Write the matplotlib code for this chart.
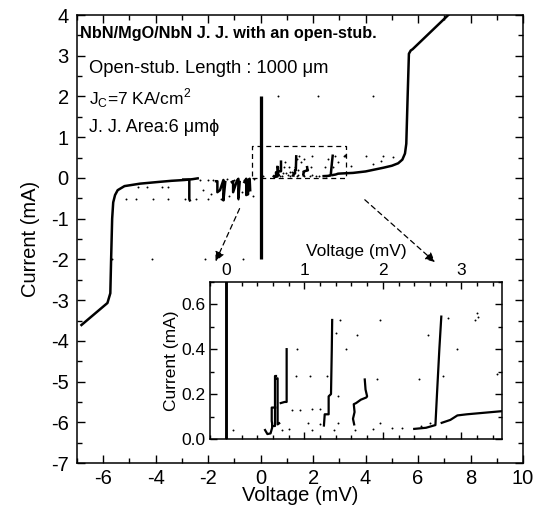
import matplotlib
matplotlib.use('Agg')
import matplotlib.pyplot as plt
from matplotlib.ticker import MultipleLocator, FormatStrFormatter

plt.rcParams['font.family'] = ['Liberation Sans', 'DejaVu Sans']
plt.rcParams['axes.unicode_minus'] = False

# ---- data (mV, mA) ----
# negative gap branch
neg_V = [-6.83, -5.84, -5.73, -5.70, -5.66, -5.62, -5.55, -5.45, -5.19, -4.6, -3.93, -3.4, -2.9, -2.6, -2.4]
neg_I = [-3.61, -3.07, -2.83, -2.0, -1.0, -0.6, -0.42, -0.30, -0.20, -0.14, -0.10, -0.07, -0.05, -0.03, -0.01]

# positive quasi-particle + gap branch
pos_V = [2.75, 2.86, 2.95, 3.07, 3.52, 4.0, 4.67, 5.0, 5.24, 5.40, 5.50, 5.55, 5.60, 5.65, 5.72, 5.79, 7.15, 7.4]
pos_I = [0.072, 0.085, 0.105, 0.11, 0.124, 0.16, 0.25, 0.30, 0.36, 0.45, 0.6, 0.84, 1.97, 3.05, 3.13, 3.16, 4.0, 4.15]

# supercurrent branch
sc_V = [0.0, 0.0]
sc_I = [-2.0, 2.0]

# resonant (Fiske-like) steps near the origin
steps = [
    ([0.50, 0.53, 0.57, 0.59, 0.59, 0.585, 0.585, 0.63], [0.04, 0.022, 0.025, 0.05, 0.07, 0.08, 0.14, 0.14]),
    ([0.60, 0.625, 0.625, 0.64], [0.06, 0.06, 0.28, 0.28]),
    ([0.64, 0.66, 0.66, 0.68], [0.27, 0.27, 0.065, 0.07]),
    ([0.70, 0.75, 0.775, 0.775], [0.16, 0.165, 0.165, 0.40]),
    ([1.25, 1.26, 1.31, 1.31, 1.34, 1.35, 1.355], [0.06, 0.11, 0.11, 0.19, 0.20, 0.40, 0.53]),
    ([1.635, 1.62, 1.64, 1.63, 1.66, 1.72, 1.79, 1.80, 1.78, 1.77],
     [0.065, 0.09, 0.12, 0.155, 0.16, 0.175, 0.185, 0.19, 0.22, 0.265]),
    ([2.40, 2.55, 2.67, 2.69, 2.72, 2.745], [0.045, 0.05, 0.062, 0.2, 0.4, 0.545]),
    ([-2.95, -2.72, -2.72, -2.70], [-0.04, -0.04, -0.52, -0.55]),
    ([-1.70, -1.65, -1.65, -1.55, -1.42, -1.42, -1.35], [-0.08, -0.08, -0.35, -0.30, -0.05, -0.55, -0.10]),
    ([-1.10, -1.05, -1.05, -0.90, -0.85, -0.85, -0.80], [-0.10, -0.08, -0.35, -0.06, -0.02, -0.50, -0.10]),
    ([-0.62, -0.55, -0.55, -0.48, -0.48, -0.42, -0.40], [-0.10, -0.02, -0.42, -0.40, -0.05, -0.02, -0.30]),
]

# scattered points
dots_V = [0.09, 0.90, 1.07, 1.29, 0.84, 0.95, 1.10, 1.20, 0.91, 1.45, 1.40, 1.53, 1.67, 1.97, 1.43,
          1.92, 2.46, 2.58, 2.83, 3.17, 3.21, 2.94, 2.77, 1.05, 1.20, 1.43, 1.97, 2.12, 2.24, 2.49,
          2.60, 0.72, 0.80, 1.10, 1.38, 1.65, 1.88,
          -5.65, -4.16, -2.14, -0.69, 0.65, 2.2, 4.27,
          -5.13, -4.74, -4.11, -3.54, -2.9, -2.45, -2.01, -1.5, -0.87,
          -4.67, -4.33, -3.76, -3.52, -2.2, -1.9, -1.2, -0.7, -0.3,
          4.03, 4.67, 5.05, 4.29, 4.6, 3.2, 3.46,
          -2.3, -2.0, -1.8, -1.3, -1.0, -0.65, -0.25]
dots_I = [0.04, 0.28, 0.28, 0.28, 0.13, 0.13, 0.135, 0.135, 0.40, 0.53, 0.47, 0.40, 0.465, 0.53, 0.19,
          0.265, 0.265, 0.465, 0.54, 0.53, 0.545, 0.40, 0.28, 0.07, 0.065, 0.07, 0.07, 0.047, 0.047, 0.06,
          0.07, 0.04, 0.045, 0.04, 0.04, 0.04, 0.045,
          -2.0, -2.0, -2.0, -2.0, 2.0, 2.0, 2.0,
          -0.52, -0.52, -0.52, -0.52, -0.52, -0.52, -0.52, -0.52, -0.52,
          -0.22, -0.22, -0.22, -0.22, -0.30, -0.40, -0.45, -0.35, -0.45,
          0.54, 0.54, 0.52, 0.34, 0.42, 0.56, 0.29,
          -0.05, -0.04, -0.06, -0.03, -0.05, -0.04, -0.03]

# zoom box (data coords of main axes)
box_V = [-0.33, 3.25, 3.25, -0.33, -0.33]
box_I = [0.0, 0.0, 0.79, 0.79, 0.0]


def draw_data(ax, lw):
    ax.plot(sc_V, sc_I, color='black', lw=lw * 1.3, solid_capstyle='butt')
    ax.plot(neg_V, neg_I, color='black', lw=lw)
    ax.plot(pos_V, pos_I, color='black', lw=lw)
    for v, i in steps:
        ax.plot(v, i, color='black', lw=lw)
    ax.plot(dots_V, dots_I, 'o', color='black', ms=1.4, mew=0)


def style_ticks(ax, size, major=6, minor=3.5, pad=6):
    ax.tick_params(which='both', direction='in', top=True, right=True, width=1.0)
    ax.tick_params(which='major', length=major, labelsize=size, pad=pad)
    ax.tick_params(which='minor', length=minor)
    for s in ax.spines.values():
        s.set_linewidth(1.1)


fig = plt.figure(figsize=(5.5, 5.18), dpi=100)
ax = fig.add_axes([0.14, 0.106, 0.811, 0.865])
draw_data(ax, 1.8)
ax.plot(box_V, box_I, color='black', lw=0.9, ls=(0, (4, 3)))
ax.set_xlim(-7, 10)
ax.set_ylim(-7, 4)
ax.xaxis.set_minor_locator(MultipleLocator(1))
ax.yaxis.set_major_locator(MultipleLocator(1))
ax.yaxis.set_minor_locator(MultipleLocator(0.5))
ax.set_xticks([-6, -4, -2, 0, 2, 4, 6, 8, 10])
style_ticks(ax, 14.5)
ax.tick_params(axis='x', pad=4)
ax.set_xlabel('Voltage (mV)', fontsize=14.5, labelpad=-1)
ax.set_ylabel('Current (mA)', fontsize=14.5, labelpad=8)

ax.text(-6.9, 3.54, 'NbN/MgO/NbN J. J. with an open-stub.', fontsize=11.7,
        fontweight='bold', va='center', ha='left')
ax.text(-6.53, 2.68, 'Open-stub. Length : 1000 \u03bcm', fontsize=13.2, va='center', ha='left')
ax.text(-6.53, 1.97, r'J$_\mathregular{C}$=7 KA/cm$^\mathregular{2}$', fontsize=12.5,
        va='center', ha='left')
ax.text(-6.53, 1.25, 'J. J. Area:6 \u03bcm\u03d5', fontsize=13.0, va='center', ha='left')

arrow = dict(arrowstyle='-|>', color='black', lw=0.9, ls=(0, (4, 3)), mutation_scale=14)
ax.annotate('', xy=(-1.76, -2.11), xytext=(-0.76, -0.69), arrowprops=arrow)
ax.annotate('', xy=(6.72, -2.11), xytext=(3.89, -0.49), arrowprops=arrow)

# inset
ins = fig.add_axes([0.382, 0.1525, 0.531, 0.3035])
draw_data(ins, 1.6)
ins.set_xlim(-0.2, 3.52)
ins.set_ylim(0, 0.7)
ins.xaxis.set_major_locator(MultipleLocator(1))
ins.xaxis.set_minor_locator(MultipleLocator(0.2))
ins.yaxis.set_major_locator(MultipleLocator(0.2))
ins.yaxis.set_minor_locator(MultipleLocator(0.1))
ins.yaxis.set_major_formatter(FormatStrFormatter('%.1f'))
style_ticks(ins, 12.5, major=5, minor=3, pad=3)
ins.tick_params(labelbottom=False, labeltop=True)
ins.xaxis.set_label_position('top')
ins.set_xlabel('Voltage (mV)', fontsize=12.5, labelpad=5)
ins.set_ylabel('Current (mA)', fontsize=12.5, labelpad=2)

fig.savefig('out.png', dpi=100)
